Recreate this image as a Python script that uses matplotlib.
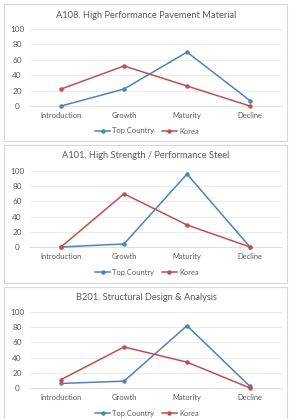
import matplotlib
matplotlib.use("Agg")
import matplotlib.pyplot as plt
from matplotlib.patches import Rectangle

stages = ["Introduction", "Growth", "Maturity", "Decline"]
titles = ["A108. High Performance Pavement Material",
          "A101. High Strength / Performance Steel",
          "B201. Structural Design & Analysis"]
top_country = [[0, 22, 70, 7], [0, 4, 96, 0], [6, 9, 82, 2]]
korea = [[22, 52, 26, 0], [0, 70, 29, 0], [11, 54, 34, 0]]
yticks = [0, 20, 40, 60, 80, 100]

W, H = 290, 419
fig = plt.figure(figsize=(W / 100, H / 100), dpi=100)
fig.patch.set_facecolor("white")
plt.rcParams['font.family'] = ['Lato', 'DejaVu Sans']

blue = "#4F81BD"
red = "#C0504D"
txt = "#595959"

# panel geometry in pixels: box top, box bottom, y of 100, y of 0, title y, legend y
panels = [
    (4, 141, 29, 106, 15, 131),
    (145, 283, 171, 247, 156, 272),
    (287, 425, 312, 388, 297, 413),
]

for i, (bt, bb, y100, y0, ty, ly) in enumerate(panels):
    fig.patches.append(Rectangle((4 / W, 1 - bb / H), 283 / W, (bb - bt) / H,
                                 transform=fig.transFigure, fill=False,
                                 edgecolor="#D9D9D9", linewidth=0.8))
    left = 29.5 / W
    right = 281.5 / W
    ax = fig.add_axes([left, 1 - y0 / H, right - left, (y0 - y100) / H])
    x = list(range(len(stages)))
    ax.plot(x, top_country[i], color=blue, lw=1.1, marker="o", ms=2.2,
            label="Top Country", clip_on=False, zorder=3)
    ax.plot(x, korea[i], color=red, lw=1.1, marker="o", ms=2.2,
            label="Korea", clip_on=False, zorder=3)
    ax.set_xlim(-0.5, 3.5)
    ax.set_ylim(0, 100)
    ax.set_yticks(yticks)
    ax.set_xticks(x)
    ax.set_xticklabels(stages)
    ax.grid(axis="y", color="#E8E8E8", lw=0.6)
    ax.set_axisbelow(True)
    for s in ["top", "right", "left"]:
        ax.spines[s].set_visible(False)
    ax.spines["bottom"].set_color("#D9D9D9")
    ax.spines["bottom"].set_linewidth(0.6)
    ax.tick_params(axis="x", length=0, labelsize=5.4, colors=txt, pad=4)
    ax.tick_params(axis="y", length=0, labelsize=5.9, colors=txt, pad=9)
    for lab in ax.get_yticklabels():
        lab.set_horizontalalignment("center")
    ax.set_facecolor("none")
    fig.text(146 / W, 1 - ty / H, titles[i], ha="center", va="center",
             fontsize=6.7, color=txt)
    leg = ax.legend(loc="center", bbox_to_anchor=(147 / W, 1 - ly / H),
                    bbox_transform=fig.transFigure, ncol=2, frameon=False,
                    fontsize=5.4, handlelength=2.0, handletextpad=0.3,
                    columnspacing=1.0, borderpad=0)
    for t in leg.get_texts():
        t.set_color(txt)

fig.savefig("out.png", dpi=100, facecolor="white")
